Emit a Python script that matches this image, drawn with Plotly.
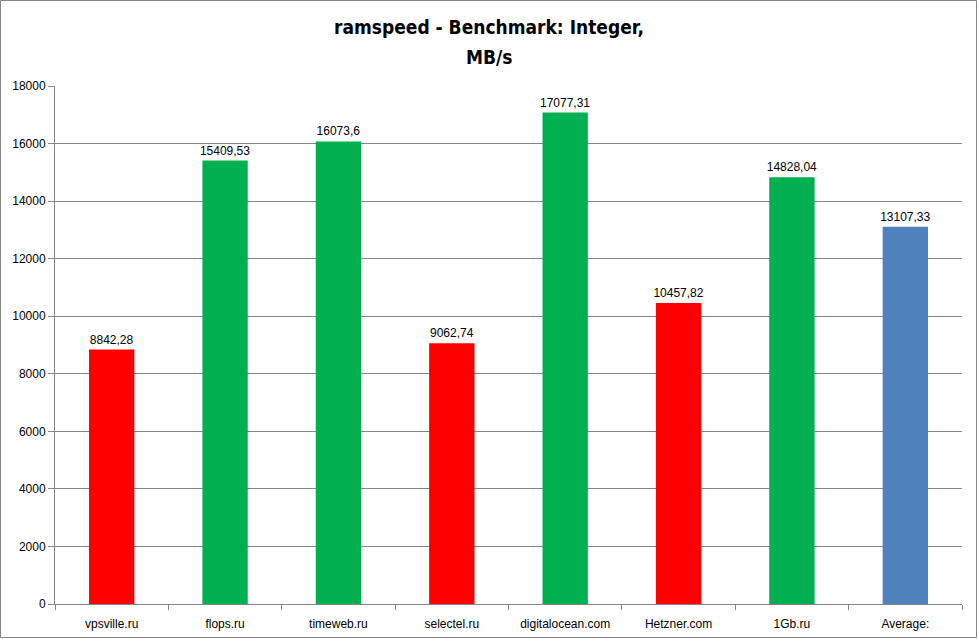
import plotly.graph_objects as go

categories = ["vpsville.ru", "flops.ru", "timeweb.ru", "selectel.ru", "digitalocean.com",
              "Hetzner.com", "1Gb.ru", "Average:"]
values = [8842.28, 15409.53, 16073.6, 9062.74, 17077.31, 10457.82, 14828.04, 13107.33]
value_labels = ["8842,28", "15409,53", "16073,6", "9062,74", "17077,31", "10457,82", "14828,04", "13107,33"]
colors = ["#FF0000", "#00B050", "#00B050", "#FF0000", "#00B050", "#FF0000", "#00B050", "#4F81BD"]
y_ticks = list(range(0, 18001, 2000))
y_tick_labels = [str(v) for v in y_ticks]
title_lines = ["ramspeed - Benchmark: Integer,", "MB/s"]

W, H = 978, 639
L, R, T, B = 55, 16, 86, 35
pw, ph = W - L - R, H - T - B

fig = go.Figure()
fig.add_trace(go.Bar(
    x=categories, y=values, text=value_labels, textposition="outside",
    textfont=dict(size=12, color="#000000", family="Liberation Sans"),
    marker=dict(color=colors, line=dict(width=0)), width=0.4, hoverinfo="skip",
    cliponaxis=False,
))

annotations = []
for i, line in enumerate(title_lines):
    yy = 27 + 30 * i
    annotations.append(dict(text="<b>" + line + "</b>", xref="paper", yref="paper",
                            x=(489 - L) / pw, y=1 + (T - yy) / ph, xanchor="center", yanchor="middle",
                            showarrow=False,
                            font=dict(size=19, family="DejaVu Sans Condensed", color="#000000")))

fig.update_layout(
    width=W, height=H,
    margin=dict(l=L, r=R, t=T, b=B, autoexpand=False),
    paper_bgcolor="white", plot_bgcolor="white",
    font=dict(family="Liberation Sans", size=12, color="#000000"),
    showlegend=False,
    uniformtext=dict(minsize=12, mode="show"),
    annotations=annotations,
    xaxis=dict(showgrid=False, showline=True, linecolor="#868686", linewidth=1,
               ticks="outside", tickson="boundaries", ticklen=5, tickcolor="#868686",
               tickfont=dict(size=12), ticklabelstandoff=9, automargin=False),
    yaxis=dict(range=[0, 18000], tickvals=y_ticks, ticktext=y_tick_labels,
               showgrid=True, gridcolor="#868686", automargin=False,
               gridwidth=1, showline=True, linecolor="#868686", linewidth=1,
               ticks="outside", ticklen=6, tickcolor="#868686", zeroline=False,
               tickfont=dict(size=12)),
    shapes=[dict(type="rect", xref="paper", yref="paper", x0=-(L - 0.5) / pw, x1=1 + (R - 1.5) / pw,
                 y0=-(B - 1.5) / ph, y1=1 + (T - 0.5) / ph, line=dict(color="#868686", width=1))],
)

fig.write_html("out.html", config={"displayModeBar": False},
               post_script="document.body.style.margin='0';document.body.style.overflow='hidden';")
